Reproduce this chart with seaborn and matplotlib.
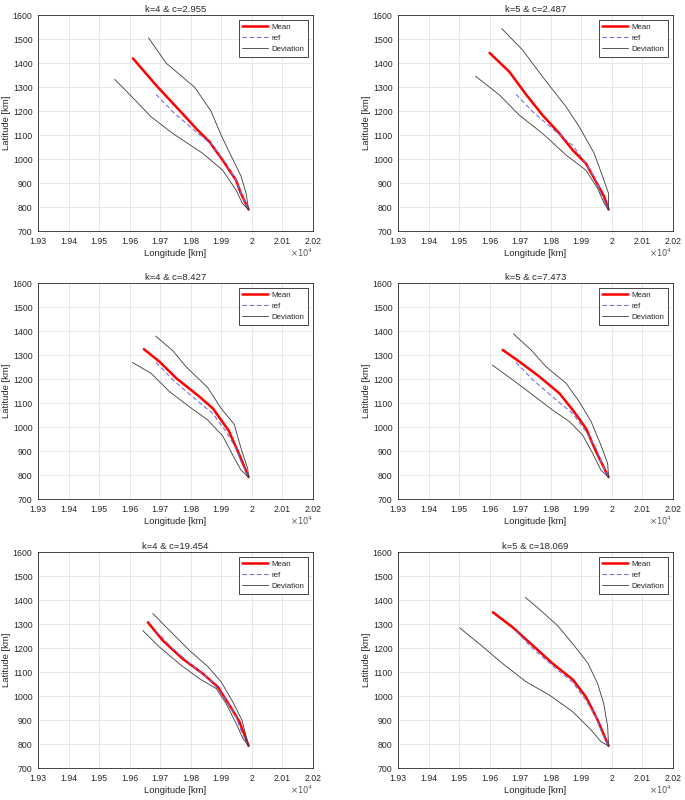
import pandas as pd
import numpy as np
import matplotlib
matplotlib.use('Agg')
import matplotlib.pyplot as plt
import seaborn as sns

sns.set_style('whitegrid')
plt.rcParams['font.family'] = ['Liberation Sans', 'DejaVu Sans']

# reference trajectory (same in every panel), longitude in units of 1e4 km
ref_lon = [1.9687, 1.9742, 1.9818, 1.9872, 1.9916, 1.9949, 1.9965, 1.9990]
ref_lat = [1270, 1197, 1114, 1058, 982, 912, 857, 790]

titles = ['k=4 & c=2.955', 'k=5 & c=2.487', 'k=4 & c=8.427',
          'k=5 & c=7.473', 'k=4 & c=19.454', 'k=5 & c=18.069']

mean_lon = [
    [1.9611, 1.9687, 1.9763, 1.9818, 1.9862, 1.9905, 1.9949, 1.9965, 1.9990],
    [1.9600, 1.9665, 1.9720, 1.9774, 1.9829, 1.9873, 1.9916, 1.9949, 1.9976, 1.9990],
    [1.9647, 1.9698, 1.9753, 1.9829, 1.9873, 1.9925, 1.9960, 1.9990],
    [1.9643, 1.9698, 1.9763, 1.9829, 1.9873, 1.9916, 1.9949, 1.9990],
    [1.9660, 1.9709, 1.9774, 1.9840, 1.9889, 1.9927, 1.9960, 1.9990],
    [1.9611, 1.9676, 1.9742, 1.9807, 1.9873, 1.9916, 1.9954, 1.9990],
]
mean_lat = [
    [1420, 1308, 1204, 1128, 1072, 996, 912, 857, 790],
    [1443, 1364, 1269, 1183, 1107, 1037, 982, 906, 843, 790],
    [1325, 1273, 1204, 1127, 1078, 985, 884, 792],
    [1322, 1273, 1211, 1141, 1071, 995, 898, 792],
    [1307, 1231, 1155, 1093, 1038, 962, 893, 792],
    [1349, 1286, 1210, 1135, 1068, 996, 900, 792],
]

up_lon = [
    [1.9662, 1.9720, 1.9813, 1.9867, 1.9900, 1.9938, 1.9965, 1.9982, 1.9990],
    [1.9640, 1.9709, 1.9774, 1.9851, 1.9894, 1.9943, 1.9971, 1.9990, 1.9990],
    [1.9685, 1.9742, 1.9785, 1.9856, 1.9900, 1.9943, 1.9965, 1.9987, 1.9990],
    [1.9678, 1.9736, 1.9785, 1.9851, 1.9894, 1.9933, 1.9965, 1.9987, 1.9990],
    [1.9676, 1.9731, 1.9796, 1.9856, 1.9900, 1.9938, 1.9968, 1.9990],
    [1.9717, 1.9763, 1.9823, 1.9873, 1.9922, 1.9954, 1.9974, 1.9987, 1.9990],
]
up_lat = [
    [1506, 1400, 1300, 1200, 1100, 1000, 930, 857, 790],
    [1544, 1454, 1343, 1218, 1135, 1024, 926, 857, 790],
    [1380, 1318, 1252, 1165, 1078, 1012, 912, 828, 792],
    [1389, 1322, 1252, 1183, 1106, 1023, 925, 849, 792],
    [1344, 1273, 1190, 1123, 1059, 976, 900, 792],
    [1411, 1362, 1293, 1217, 1137, 1052, 969, 872, 792],
]

low_lon = [
    [1.9551, 1.9600, 1.9671, 1.9742, 1.9840, 1.9905, 1.9949, 1.9970, 1.9990],
    [1.9554, 1.9633, 1.9698, 1.9774, 1.9851, 1.9916, 1.9954, 1.9976, 1.9990],
    [1.9609, 1.9671, 1.9731, 1.9796, 1.9856, 1.9905, 1.9938, 1.9965, 1.9990],
    [1.9609, 1.9676, 1.9742, 1.9807, 1.9862, 1.9905, 1.9938, 1.9965, 1.9990],
    [1.9643, 1.9698, 1.9769, 1.9829, 1.9884, 1.9916, 1.9949, 1.9971, 1.9990],
    [1.9502, 1.9567, 1.9643, 1.9720, 1.9796, 1.9873, 1.9933, 1.9965, 1.9990],
]
low_lat = [
    [1333, 1270, 1176, 1107, 1024, 954, 871, 815, 790],
    [1346, 1267, 1183, 1107, 1017, 954, 878, 815, 790],
    [1270, 1224, 1148, 1085, 1030, 964, 884, 821, 792],
    [1259, 1197, 1134, 1071, 1023, 967, 891, 821, 792],
    [1273, 1204, 1128, 1072, 1031, 969, 886, 824, 792],
    [1284, 1217, 1135, 1059, 1004, 934, 858, 810, 792],
]

fig = plt.figure(figsize=(6.85, 8), dpi=100)
lefts = [0.0555, 0.581]
bottoms = [0.711, 0.376, 0.040]
w, h = 0.401, 0.27

for i in range(6):
    ax = fig.add_axes([lefts[i % 2], bottoms[i // 2], w, h])
    d_mean = pd.DataFrame({'lon': np.array(mean_lon[i]) * 1e4, 'lat': mean_lat[i]})
    d_ref = pd.DataFrame({'lon': np.array(ref_lon) * 1e4, 'lat': ref_lat})
    d_up = pd.DataFrame({'lon': np.array(up_lon[i]) * 1e4, 'lat': up_lat[i]})
    d_low = pd.DataFrame({'lon': np.array(low_lon[i]) * 1e4, 'lat': low_lat[i]})

    sns.lineplot(data=d_mean, x='lon', y='lat', sort=False, estimator=None,
                 color='#ff0000', lw=1.8, label='Mean', ax=ax)
    sns.lineplot(data=d_ref, x='lon', y='lat', sort=False, estimator=None,
                 color='#6f6fe8', lw=0.8, ls=(0, (4, 2.5)), label='ref', ax=ax)
    sns.lineplot(data=d_up, x='lon', y='lat', sort=False, estimator=None,
                 color='#3a3a3a', lw=0.6, label='Deviation', ax=ax)
    sns.lineplot(data=d_low, x='lon', y='lat', sort=False, estimator=None,
                 color='#3a3a3a', lw=0.6, ax=ax)

    ax.set_xlim(19300, 20200)
    ax.set_ylim(700, 1600)
    xt = np.arange(19300, 20201, 100)
    ax.set_xticks(xt)
    ax.set_xticklabels([f'{v / 1e4:g}' for v in xt])
    ax.set_yticks(np.arange(700, 1601, 100))
    ax.tick_params(labelsize=6.3, length=2, pad=2, colors='#262626')
    ax.grid(True, color='#e3e3e3', lw=0.6)
    for s in ax.spines.values():
        s.set_color('#262626')
        s.set_linewidth(0.6)
    ax.set_xlabel('Longitude [km]', fontsize=6.8, labelpad=2.5, color='#262626')
    ax.set_ylabel('Latitude [km]', fontsize=6.8, labelpad=1, color='#262626')
    ax.set_title(titles[i], fontsize=6.8, pad=2, color='#262626')
    ax.text(1.0, -0.1, r'$\times10^4$', transform=ax.transAxes, fontsize=6,
            ha='right', va='center', color='#555555')
    leg = ax.legend(loc='upper right', fontsize=5.7, frameon=True, fancybox=False,
                    framealpha=1, edgecolor='#262626', handlelength=3.2,
                    handletextpad=0.5, borderpad=0.45, labelspacing=0.45,
                    borderaxespad=0.6)
    leg.get_frame().set_linewidth(0.6)

fig.savefig('out.png', dpi=100, facecolor='white')
